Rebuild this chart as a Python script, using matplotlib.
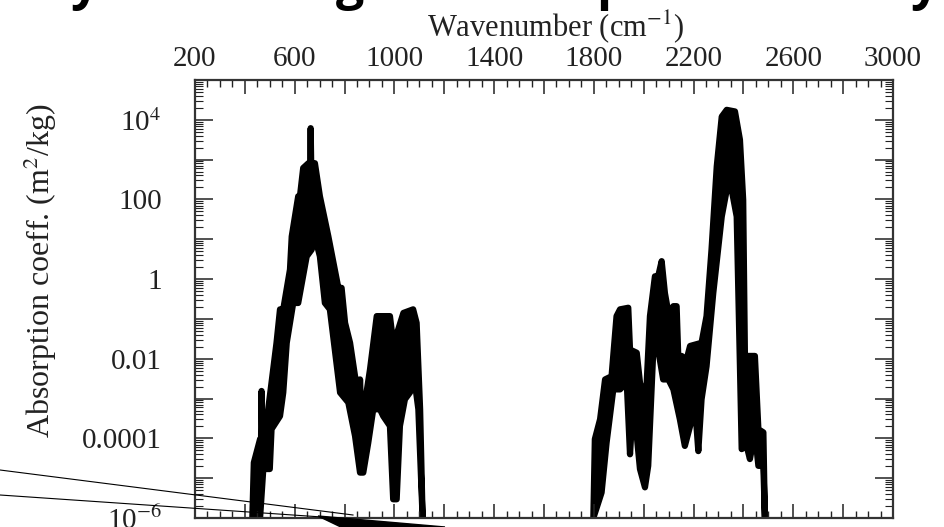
import numpy as np
import matplotlib
matplotlib.use("Agg")
import matplotlib.pyplot as plt
from matplotlib.ticker import FixedLocator, FixedFormatter, LogLocator, NullFormatter
from matplotlib.lines import Line2D
from matplotlib.patches import Polygon

plt.rcParams['font.family'] = ['Liberation Serif', 'DejaVu Serif']
plt.rcParams['mathtext.fontset'] = 'stix'

# 15 um band: upper and lower edge of the dense line forest (wavenumber, log10 of coeff.)
band1_upper_wn = [430, 436, 461, 465, 467, 470, 487, 507, 527, 541, 554, 581, 588, 614, 621,
                  634, 655, 662, 664, 666, 681, 701, 735, 775, 788, 802, 822, 842, 860, 862,
                  864, 882, 902, 929, 942, 982, 995, 1015, 1036, 1075, 1089, 1103, 1113]
band1_upper_log = [-6, -4.61, -4.02, -4.0, -2.81, -4.0, -3.60, -2.60, -1.60, -0.76, -0.76, 0.24,
                   1.07, 2.08, 2.08, 2.79, 2.91, 2.91, 3.79, 2.91, 2.91, 2.08, 1.07, -0.22, -0.22,
                   -1.10, -1.60, -2.44, -2.9, -2.52, -2.9, -3.10, -2.27, -0.93, -0.93, -0.93,
                   -1.60, -1.27, -0.85, -0.76, -1.10, -3.27, -6]
band1_lower_wn = [430, 461, 474, 500, 507, 541, 554, 568, 594, 614, 648, 668, 681, 701, 721,
                  741, 782, 815, 842, 862, 875, 895, 915, 942, 955, 982, 995, 1009, 1022, 1042,
                  1062, 1082, 1096, 1113]
band1_lower_log = [-6, -6, -4.77, -4.77, -3.77, -3.44, -2.85, -1.60, -0.60, -0.60, 0.57, 0.74,
                   1.07, 0.57, -0.60, -0.76, -2.85, -3.10, -3.94, -4.86, -4.86, -4.11, -3.27,
                   -3.27, -3.44, -3.69, -5.53, -5.53, -3.69, -3.02, -2.85, -2.60, -3.27, -6]

# 4.3 um band and the weaker bands around 1900-2100
band2_upper_wn = [1798, 1804, 1825, 1845, 1871, 1891, 1905, 1938, 1945, 1972, 1985, 1998, 2012,
                  2025, 2045, 2058, 2072, 2085, 2099, 2119, 2132, 2139, 2152, 2172, 2186, 2232,
                  2252, 2272, 2293, 2313, 2333, 2366, 2386, 2399, 2406, 2446, 2460, 2480, 2486]
band2_upper_log = [-6, -4.02, -3.52, -2.52, -2.44, -0.93, -0.76, -0.72, -1.77, -1.85, -2.60,
                   -3.02, -2.60, -0.93, 0.07, 0.07, 0.45, -0.35, -0.85, -0.68, -0.68, -2.02,
                   -1.93, -2.02, -1.68, -1.60, -0.93, 0.74, 2.83, 4.08, 4.25, 4.21, 3.50, 1.99,
                   -1.93, -1.93, -3.77, -3.85, -6]
band2_lower_wn = [1798, 1831, 1851, 1878, 1905, 1932, 1945, 1958, 1985, 2005, 2018, 2038, 2058,
                  2078, 2099, 2119, 2145, 2165, 2186, 2206, 2219, 2232, 2252, 2279, 2313, 2333,
                  2353, 2373, 2386, 2393, 2413, 2426, 2446, 2460, 2480, 2486]
band2_lower_log = [-6, -5.36, -4.11, -2.77, -2.77, -2.60, -4.40, -3.02, -4.77, -5.23, -4.69,
                   -1.85, -1.77, -2.52, -2.52, -2.77, -3.52, -4.19, -3.69, -3.19, -4.32, -3.02,
                   -2.19, -0.35, 1.57, 2.24, 2.24, 1.57, -2.19, -4.27, -4.19, -4.52, -3.85,
                   -4.69, -4.69, -6]

xtick_vals = list(range(200, 3001, 200))
xtick_labels = ['200', '', '600', '', '1000', '', '1400', '', '1800', '', '2200', '', '2600', '', '3000']
ytick_vals = [10.0 ** k for k in range(-6, 6)]
ytick_labels = ['10$^{-6}$', '', '0.0001', '', '0.01', '', '1', '', '100', '', '10$^4$', '']

W, H = 945, 527
fig = plt.figure(figsize=(W / 100, H / 100), dpi=100)
ax = fig.add_axes([195 / W, 9 / H, 698 / W, 438 / H])


def draw_band(uw, ul, lw_, ll):
    xs = np.concatenate([uw, lw_[::-1]])
    ys = 10.0 ** np.concatenate([ul, ll[::-1]])
    ax.fill(xs, ys, facecolor='black', edgecolor='black', lw=4.5, joinstyle='round')


draw_band(np.array(band1_upper_wn), np.array(band1_upper_log),
          np.array(band1_lower_wn), np.array(band1_lower_log))
draw_band(np.array(band2_upper_wn), np.array(band2_upper_log),
          np.array(band2_lower_wn), np.array(band2_lower_log))

ax.set_yscale('log')
ax.set_xlim(200, 3000)
ax.set_ylim(1e-6, 1e5)

ax.xaxis.set_major_locator(FixedLocator(xtick_vals))
ax.xaxis.set_major_formatter(FixedFormatter(xtick_labels))
ax.xaxis.set_minor_locator(FixedLocator(list(range(200, 3001, 50))))
ax.yaxis.set_major_locator(FixedLocator(ytick_vals))
ax.yaxis.set_major_formatter(FixedFormatter(ytick_labels))
ax.yaxis.set_minor_locator(LogLocator(base=10, subs=np.arange(2, 10), numticks=50))
ax.yaxis.set_minor_formatter(NullFormatter())

ax.tick_params(axis='x', which='both', direction='in', top=True, bottom=True,
               labeltop=True, labelbottom=False, labelsize=21, pad=6, colors='#222222')
ax.tick_params(axis='x', which='major', length=10, width=1.1)
ax.tick_params(axis='x', which='minor', length=5, width=1.0)
ax.tick_params(axis='y', which='both', direction='in', left=True, right=True,
               labelsize=21, pad=24, colors='#222222')
ax.tick_params(axis='y', which='major', length=13, width=1.1)
ax.tick_params(axis='y', which='minor', length=6, width=0.8)
for s in ax.spines.values():
    s.set_linewidth(1.6)
    s.set_color('#333333')

ax.xaxis.set_label_position('top')
ax.set_xlabel('Wavenumber (cm$^{-1}$)', fontsize=22, color='#222222')
ax.xaxis.set_label_coords(0.516, 1.100)
ax.set_ylabel('Absorption coeff. (m$^2$/kg)', fontsize=23, color='#222222')
ax.yaxis.set_label_coords(-0.195, 0.565)

# cut-off slide title above the figure: only descenders remain
for ch, px in [('y', 85), ('g', 350), ('p', 612), ('y', 925)]:
    fig.text(px / W, 1 + 1 / H, ch, fontsize=36, fontweight='bold', family='Open Sans',
             ha='center', va='baseline', color='black')

# thin annotation lines and arrow tip from the slide
fig.add_artist(Line2D([0, 353 / W], [1 - 470 / H, 1 - 515 / H], color='black', lw=0.8))
fig.add_artist(Line2D([0, 322 / W], [1 - 495 / H, 1 - 517 / H], color='black', lw=0.8))
fig.add_artist(Polygon([[318 / W, 1 - 516 / H], [445 / W, 1 - 527 / H], [345 / W, 1 - 529 / H]],
                       closed=True, color='black', transform=fig.transFigure))

fig.savefig('out.png', dpi=100)
